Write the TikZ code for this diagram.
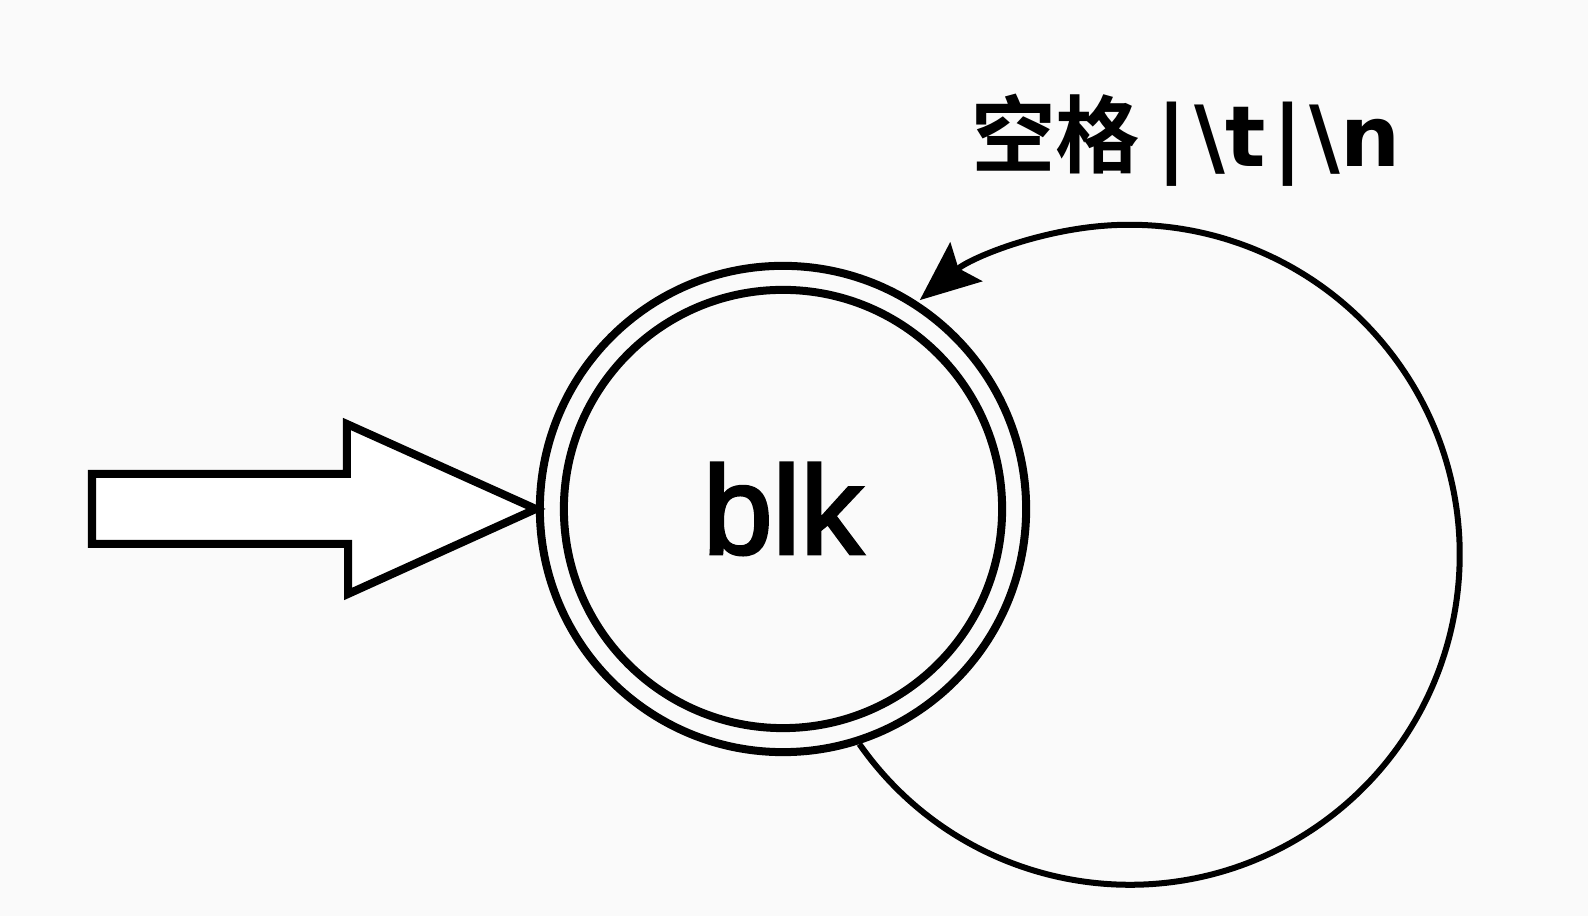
\documentclass[tikz,border=0pt]{standalone}
\usepackage{fontspec}
\setmainfont{Liberation Sans}
\newfontfamily\blkfont{Liberation Sans}[FakeBold=2.5]
\newfontfamily\cjkb{Noto Sans CJK SC}[BoldFont=* Bold]
\newfontfamily\latb{DejaVu Sans}
\usetikzlibrary{arrows.meta}
\definecolor{paper}{RGB}{250,250,250}
\tikzset{
  statering/.style={line width=0.08cm},
  inarrow/.style={line width=0.08cm, line join=miter, fill=white},
  loopline/.style={line width=0.06cm, -{Stealth[length=6mm, width=5mm, inset=1mm]}},
}
\begin{document}
\begin{tikzpicture}[x=0.01cm, y=0.01cm]
\useasboundingbox (0,0) rectangle (1588,916);
\fill[paper] (0,0) rectangle (1588,916);
% state
\node[circle, draw, statering, minimum size=4.86cm, inner sep=0pt,
      font=\blkfont\fontsize{35.6}{40}\selectfont] (blk) at (783,407) {blk};
\draw[statering] (blk.center) circle[radius=2.19cm];
% start arrow
\draw[inarrow] (blk.west) -- ++(-189,85) -- ++(0,-50) -- (92,442) -- (92,372)
  -- (348,372) -- (348,322) -- cycle;
% self loop
\draw[loopline] (blk.-72) arc[start angle=215, end angle=489.5, radius=330];
% label
\node[inner sep=0pt, font=\fontsize{24}{28}\selectfont] (lab) at (1186,776)
  {{\cjkb\bfseries 空格}\kern0.2em{\latb\bfseries |}\kern0.08em{\latb\bfseries \textbackslash t}\kern0.08em{\latb\bfseries |}\kern0.08em{\latb\bfseries \textbackslash n}};
\end{tikzpicture}
\end{document}
